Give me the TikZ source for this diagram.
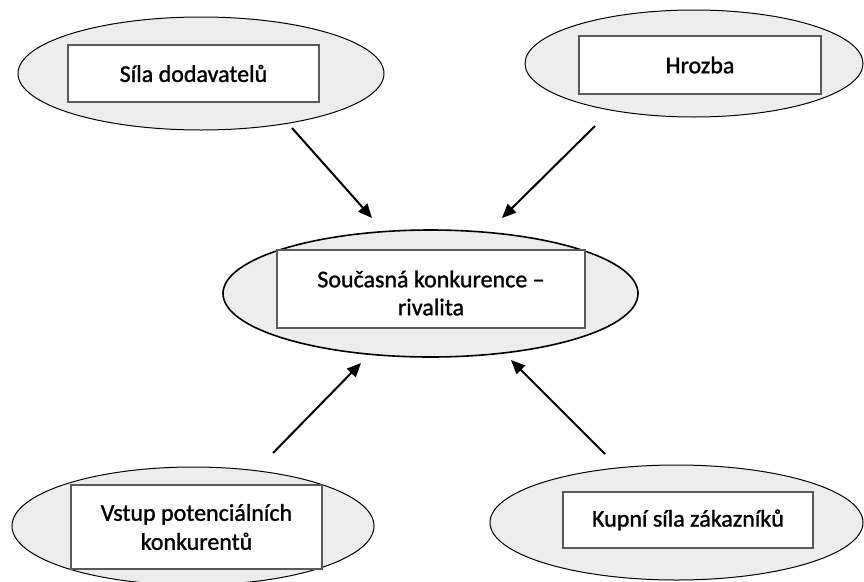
\documentclass[tikz,border=0pt]{standalone}
\usepackage{fontspec}
\setmainfont{Carlito}
\newfontfamily\lblfont{Carlito}[RawFeature={embolden=1.2}]
\usetikzlibrary{shapes.geometric,arrows.meta}
\definecolor{ellfill}{HTML}{EDEDED}
\definecolor{boxline}{HTML}{5A5A5A}
\tikzset{
  oval/.style={ellipse, draw=black, line width=1pt, fill=ellfill, inner sep=0pt},
  tbox/.style={rectangle, draw=boxline, line width=1.4pt, fill=white, inner sep=0pt,
    align=center, font=\lblfont\fontsize{24}{29}\selectfont},
  lbl/.style={inner sep=0pt, align=center, font=\lblfont\fontsize{24}{28}\selectfont},
  arr/.style={line width=2pt, -{Triangle[length=14pt,width=12pt]}}
}
\begin{document}
\begin{tikzpicture}[x=1pt,y=-1pt]
\useasboundingbox (0,0) rectangle (864,581);
\begin{scope}
\clip (0,0) rectangle (864,581);
% ellipses
\node[oval, minimum width=366pt, minimum height=113pt] (e1) at (201,73.5) {};
\node[oval, minimum width=338pt, minimum height=107pt] (e2) at (694,63.5) {};
\node[oval, line width=1.6pt, minimum width=415pt, minimum height=127pt] (ec) at (430.5,293.5) {};
\node[oval, minimum width=362pt, minimum height=118pt] (e3) at (193,526) {};
\node[oval, minimum width=373pt, minimum height=115pt] (e4) at (676.5,522.5) {};
% boxes
\node[tbox, minimum width=251pt, minimum height=57pt] (b1) at (193.5,73.5) {Síla dodavatelů};
\node[tbox, minimum width=242pt, minimum height=58pt] (b2) at (700,65) {Hrozba};
\node[tbox, minimum width=308pt, minimum height=78pt] (bc) at (431,289) {};
\node[lbl] (lc) at (431,293) {Současná konkurence –\\rivalita};
\node[tbox, minimum width=251pt, minimum height=84pt] (b3) at (196.5,527) {Vstup potenciálních\\konkurentů};
\node[tbox, minimum width=250pt, minimum height=56pt] (b4) at (688,520) {Kupní síla zákazníků};
\end{scope}
% arrow end points
\coordinate (a1s) at (292,128); \coordinate (a1e) at (372,218);
\coordinate (a2s) at (595,126); \coordinate (a2e) at (502,218);
\coordinate (a3s) at (273,453); \coordinate (a3e) at (361,363);
\coordinate (a4s) at (605,454); \coordinate (a4e) at (511,360);
\draw[arr] (a1s) -- (a1e);
\draw[arr] (a2s) -- (a2e);
\draw[arr] (a3s) -- (a3e);
\draw[arr] (a4s) -- (a4e);
\end{tikzpicture}
\end{document}
